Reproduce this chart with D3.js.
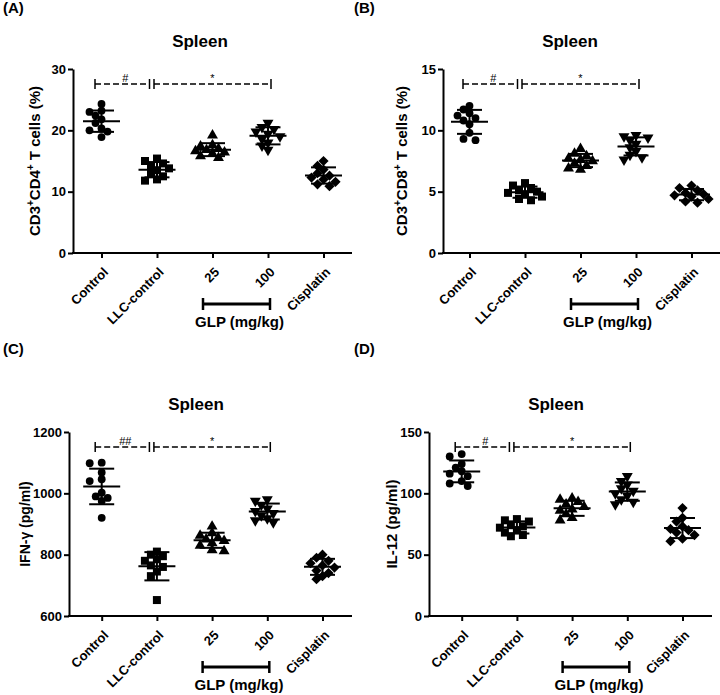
<!DOCTYPE html>
<html>
<head>
<meta charset="utf-8">
<script src="https://cdn.jsdelivr.net/npm/d3@7"></script>
<style>
  html, body { margin: 0; padding: 0; background: #fff; }
  svg { display: block; }
  text { font-family: "Liberation Sans", Arial, sans-serif; fill: #000; }
</style>
</head>
<body>
<script>
// ---------------- DATA ----------------
const categories = ["Control", "LLC-control", "25", "100", "Cisplatin"];

const cd4Values = [
  [24.3, 23.2, 23.0, 22.4, 21.8, 21.2, 20.3, 20.0, 19.8, 18.9],
  [15.4, 15.0, 14.6, 14.2, 13.8, 13.5, 13.0, 12.5, 12.0, 11.8],
  [19.2, 17.6, 17.4, 17.0, 16.8, 16.6, 16.4, 16.2, 15.8, 15.5],
  [21.2, 20.5, 20.2, 19.8, 19.4, 19.0, 18.6, 18.0, 17.5, 16.8],
  [15.0, 14.2, 13.6, 13.0, 12.6, 12.3, 12.0, 11.6, 11.2, 10.9]
];
const cd8Values = [
  [12.0, 11.7, 11.4, 11.2, 11.0, 10.8, 10.5, 9.8, 9.3, 9.2],
  [5.7, 5.5, 5.3, 5.1, 5.0, 4.9, 4.8, 4.6, 4.4, 4.3],
  [8.5, 8.1, 7.9, 7.7, 7.6, 7.5, 7.3, 7.1, 6.9, 6.8],
  [9.6, 9.5, 9.4, 9.2, 8.9, 8.6, 8.3, 8.0, 7.8, 7.6],
  [5.5, 5.3, 5.1, 4.9, 4.8, 4.7, 4.6, 4.4, 4.2, 4.1]
];
const ifnValues = [
  [1100, 1098, 1068, 1046, 1040, 1002, 990, 985, 975, 920],
  [810, 800, 795, 785, 780, 765, 760, 745, 730, 652],
  [892, 870, 862, 855, 850, 845, 838, 830, 815, 812],
  [980, 975, 962, 950, 942, 935, 928, 918, 912, 905],
  [800, 790, 780, 772, 765, 758, 748, 740, 730, 720]
];
const il12Values = [
  [132, 130, 124, 121, 118, 116, 114, 110, 108, 106],
  [79, 78, 77, 74, 73, 72, 70, 68, 66, 65],
  [96, 95, 93, 91, 89, 87, 86, 83, 80, 78],
  [114, 110, 107, 104, 102, 100, 98, 95, 93, 91],
  [88, 80, 77, 73, 71, 70, 68, 66, 63, 61]
];

const cd4Ticks = [0, 10, 20, 30];
const cd8Ticks = [0, 5, 10, 15];
const ifnTicks = [600, 800, 1000, 1200];
const il12Ticks = [0, 50, 100, 150];

const panelLetters = ["(A)", "(B)", "(C)", "(D)"];
const panelTitle = "Spleen";
const groupLabel = "GLP (mg/kg)";
const sigLabelsA = ["#", "*"];
const sigLabelsB = ["#", "*"];
const sigLabelsC = ["##", "*"];
const sigLabelsD = ["#", "*"];

// ---------------- LAYOUT ----------------
const W = 720, H = 695;
const svg = d3.select("body").append("svg").attr("width", W).attr("height", H);

const symbolTypes = [
  { type: d3.symbolCircle, size: 48, rot: 0 },
  { type: d3.symbolSquare, size: 64, rot: 0 },
  { type: d3.symbolTriangle, size: 52, rot: 0 },
  { type: d3.symbolTriangle, size: 52, rot: 180 },
  { type: d3.symbolSquare, size: 52, rot: 45 }
];

function swarm(vals, y, minDist) {
  const pts = vals.map((v, i) => ({ v, i, py: y(v) })).sort((a, b) => a.py - b.py);
  const offsets = [0, -6, 6, -12, 12, -17, 17, -22, 22];
  const placed = [];
  pts.forEach(p => {
    let chosen = offsets[offsets.length - 1];
    for (const off of offsets) {
      if (placed.every(q => Math.hypot(q.dx - off, q.py - p.py) >= minDist)) { chosen = off; break; }
    }
    p.dx = chosen;
    placed.push(p);
  });
  return pts;
}

function drawPanel(cfg, values, ticks, yLabelBuilder, sigLabels, letter) {
  const g = svg.append("g");
  const x = d3.scalePoint().domain(categories)
    .range([cfg.firstX, cfg.firstX + (categories.length - 1) * cfg.step]);
  const y = d3.scaleLinear().domain([ticks[0], ticks[ticks.length - 1]])
    .range([cfg.yBot, cfg.yTop]);

  // Y axis
  const ya = g.append("g")
    .attr("transform", `translate(${cfg.axisX0},0)`)
    .call(d3.axisLeft(y).tickValues(ticks).tickFormat(d3.format("d"))
      .tickSize(5).tickSizeOuter(0).tickPadding(2));
  ya.select(".domain").attr("stroke", "#000").attr("stroke-width", 2);
  ya.selectAll(".tick line").attr("stroke", "#000").attr("stroke-width", 2);
  ya.selectAll(".tick text").attr("font-size", 13).attr("font-weight", "bold")
    .attr("font-family", "Liberation Sans, Arial, sans-serif").attr("fill", "#000");

  // X axis
  const xa = g.append("g")
    .attr("transform", `translate(0,${cfg.yBot})`)
    .call(d3.axisBottom(x).tickSize(5).tickSizeOuter(0));
  xa.select(".domain").remove();
  xa.append("line").attr("x1", cfg.axisX0 - 1).attr("x2", cfg.axisX1)
    .attr("y1", 0).attr("y2", 0).attr("stroke", "#000").attr("stroke-width", 2);
  xa.selectAll(".tick line").attr("stroke", "#000").attr("stroke-width", 2);
  xa.selectAll(".tick text")
    .attr("font-size", 13).attr("font-weight", "bold")
    .attr("font-family", "Liberation Sans, Arial, sans-serif").attr("fill", "#000")
    .attr("text-anchor", "end")
    .attr("y", 0).attr("dy", 0)
    .attr("transform", "translate(7,20) rotate(-45)");

  // Y label
  const yl = g.append("text")
    .attr("transform", `translate(${cfg.yLabelX},${(cfg.yTop + cfg.yBot) / 2}) rotate(-90)`)
    .attr("text-anchor", "middle").attr("font-size", cfg.yLabelSize).attr("font-weight", "bold");
  yLabelBuilder(yl);

  // Title
  g.append("text").attr("x", cfg.axisX0 + 127).attr("y", cfg.yTop - 22)
    .attr("text-anchor", "middle").attr("font-size", 17).attr("font-weight", "bold")
    .text(panelTitle);

  // Panel letter
  g.append("text").attr("x", cfg.letterX).attr("y", cfg.letterY)
    .attr("font-size", 15).attr("font-weight", "bold").text(letter);

  // Points
  values.forEach((vals, i) => {
    const cx = x(categories[i]);
    const st = symbolTypes[i];
    const sym = d3.symbol().type(st.type).size(st.size);
    swarm(vals, y, 6.5).forEach(p => {
      g.append("path").attr("d", sym())
        .attr("transform", `translate(${cx + p.dx},${p.py}) rotate(${st.rot})`)
        .attr("fill", "#000");
    });
    const m = d3.mean(vals), sd = d3.deviation(vals);
    const eb = g.append("g").attr("stroke", "#000").attr("stroke-width", 2);
    eb.append("line").attr("x1", cx - 18.5).attr("x2", cx + 18.5).attr("y1", y(m)).attr("y2", y(m));
    eb.append("line").attr("x1", cx).attr("x2", cx).attr("y1", y(m - sd)).attr("y2", y(m + sd));
    [m - sd, m + sd].forEach(v => {
      eb.append("line").attr("x1", cx - 12.5).attr("x2", cx + 12.5).attr("y1", y(v)).attr("y2", y(v));
    });
  });

  // Significance bars
  const sy = cfg.yTop + 15;
  const bars = [
    [x(categories[0]) - 6.5, x(categories[1]) - 7.5, sigLabels[0], 3],
    [x(categories[1]) - 3, x(categories[3]) + 3, sigLabels[1], 0]
  ];
  bars.forEach(([x1, x2, lab, off]) => {
    const sg = g.append("g").attr("stroke", "#000").attr("stroke-width", 1.5);
    sg.append("line").attr("x1", x1).attr("x2", x2).attr("y1", sy).attr("y2", sy)
      .attr("stroke-dasharray", "6,3");
    [x1, x2].forEach(xx => sg.append("line").attr("x1", xx).attr("x2", xx)
      .attr("y1", sy - 5).attr("y2", sy + 5));
    g.append("text").attr("x", (x1 + x2) / 2 + off).attr("y", sy - 2)
      .attr("text-anchor", "middle").attr("font-size", 11).attr("fill", "#222")
      .text(lab);
  });

  // GLP bracket
  const by = cfg.yBot + 51;
  const bx1 = x(categories[2]) - 9.5, bx2 = x(categories[3]) + 2;
  const bg = g.append("g").attr("stroke", "#000");
  bg.append("line").attr("x1", bx1).attr("x2", bx2).attr("y1", by).attr("y2", by).attr("stroke-width", 3);
  [bx1, bx2].forEach(xx => bg.append("line").attr("x1", xx).attr("x2", xx)
    .attr("y1", by - 6).attr("y2", by + 6).attr("stroke-width", 2.5));
  g.append("text").attr("x", (bx1 + bx2) / 2 + 3).attr("y", by + 23)
    .attr("text-anchor", "middle").attr("font-size", 15).attr("font-weight", "bold")
    .text(groupLabel);
}

function supLabel(parts) {
  return function (t) {
    let lastSup = false;
    parts.forEach(([s, sup]) => {
      if (sup) {
        t.append("tspan").attr("dy", -6).attr("font-size", 10).text(s);
      } else {
        t.append("tspan").attr("dy", lastSup ? 6 : 0).text(s);
      }
      lastSup = sup;
    });
  };
}

drawPanel({ axisX0: 73, axisX1: 352, firstX: 101.5, step: 55.5, yTop: 69, yBot: 253, yLabelX: 40, yLabelSize: 15, letterX: 3, letterY: 13 },
  cd4Values, cd4Ticks,
  supLabel([["CD3", false], ["+", true], ["CD4", false], ["+", true], [" T cells (%)", false]]),
  sigLabelsA, panelLetters[0]);

drawPanel({ axisX0: 443, axisX1: 722, firstX: 469.5, step: 55.5, yTop: 69, yBot: 253, yLabelX: 407, yLabelSize: 15, letterX: 354, letterY: 13 },
  cd8Values, cd8Ticks,
  supLabel([["CD3", false], ["+", true], ["CD8", false], ["+", true], [" T cells (%)", false]]),
  sigLabelsB, panelLetters[1]);

drawPanel({ axisX0: 69, axisX1: 352, firstX: 101.7, step: 55.2, yTop: 432, yBot: 616, yLabelX: 30, yLabelSize: 14, letterX: 3, letterY: 354 },
  ifnValues, ifnTicks,
  t => t.text("IFN-γ (pg/ml)"),
  sigLabelsC, panelLetters[2]);

drawPanel({ axisX0: 429, axisX1: 712, firstX: 461.7, step: 55.2, yTop: 432, yBot: 616, yLabelX: 397, yLabelSize: 15, letterX: 354, letterY: 354 },
  il12Values, il12Ticks,
  t => t.text("IL-12 (pg/ml)"),
  sigLabelsD, panelLetters[3]);
</script>
</body>
</html>
